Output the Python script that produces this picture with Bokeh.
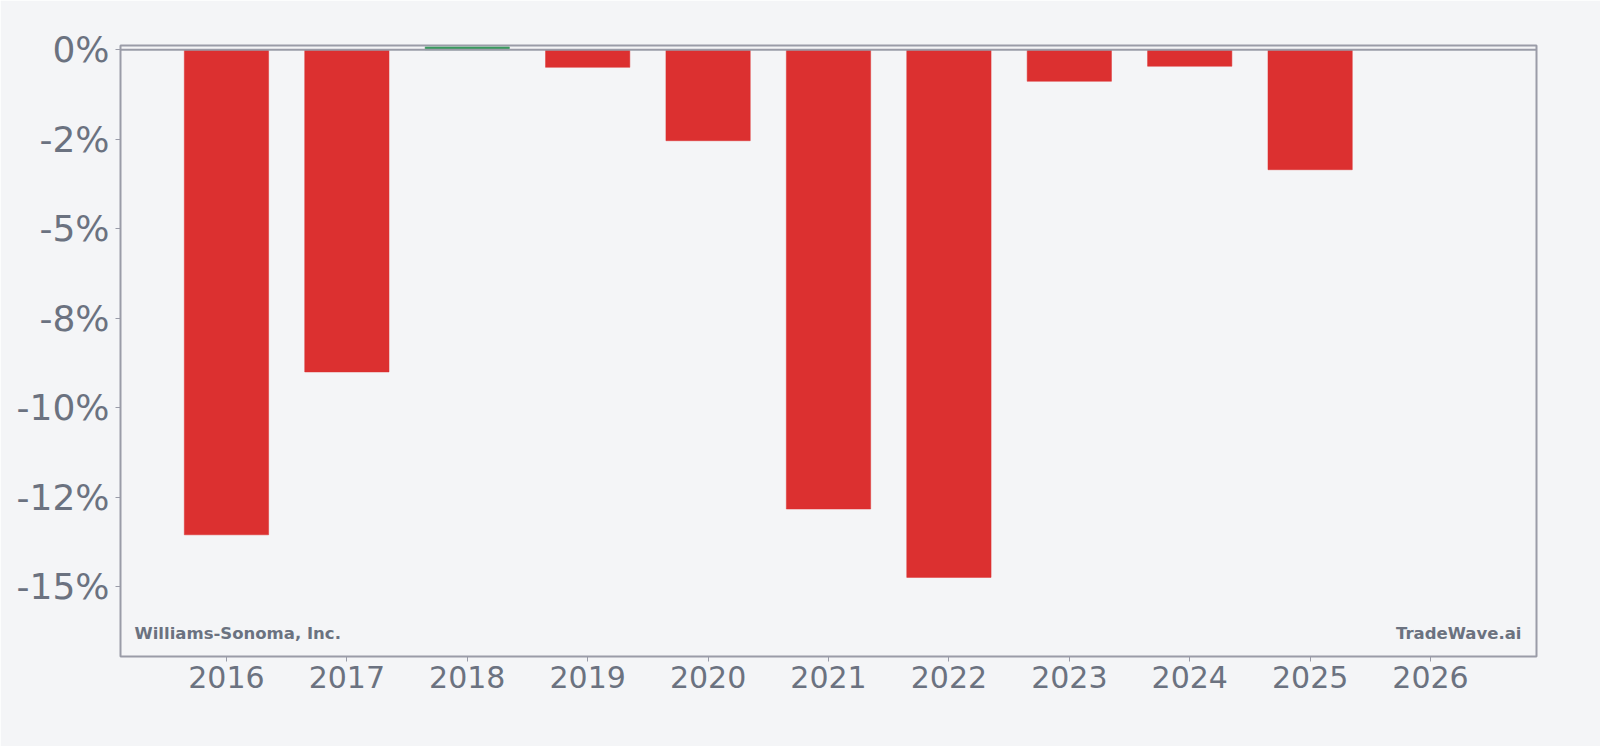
from bokeh.plotting import figure
from bokeh.models import Range1d, FixedTicker, Span, Label, ColumnDataSource
from bokeh.embed import file_html
from bokeh.resources import INLINE

# ---- data ----
years = [2016, 2017, 2018, 2019, 2020, 2021, 2022, 2023, 2024, 2025]
returns_pct = [-13.55, -9.0, 0.08, -0.49, -2.54, -12.83, -14.74, -0.88, -0.46, -3.35]
x_ticks = [2016, 2017, 2018, 2019, 2020, 2021, 2022, 2023, 2024, 2025, 2026]
x_tick_labels = ["2016", "2017", "2018", "2019", "2020", "2021", "2022", "2023", "2024", "2025", "2026"]
y_ticks = [0, -2.5, -5, -7.5, -10, -12.5, -15]
y_tick_labels = ["0%", "-2%", "-5%", "-8%", "-10%", "-12%", "-15%"]
company = "Williams-Sonoma, Inc."
brand = "TradeWave.ai"

BG = "#f4f5f7"
TXT = "#6b7280"
FRAME = "#9a9ca8"
RED = "#dc3030"
GREEN = "#3a9a5f"

colors = [GREEN if v >= 0 else RED for v in returns_pct]
src = ColumnDataSource(dict(x=years, top=returns_pct, color=colors))

x0, x1 = 2015.12, 2026.88
y0, y1 = -16.95, 0.12

p = figure(width=1600, height=746, output_backend="svg", toolbar_location=None,
           x_range=Range1d(x0, x1), y_range=Range1d(y0, y1),
           min_border_left=120, min_border_right=64, min_border_top=45, min_border_bottom=90)
p.background_fill_color = BG
p.border_fill_color = BG
p.outline_line_color = FRAME
p.outline_line_width = 2
p.xgrid.visible = False
p.ygrid.visible = False

p.vbar(x="x", top="top", bottom=0, width=0.7, source=src,
       fill_color="color", line_color="color", line_width=0.5)

p.add_layout(Span(location=0, dimension="width", line_color=FRAME, line_width=2))

for ax in (p.xaxis[0], p.yaxis[0]):
    ax.axis_line_color = None
    ax.major_tick_line_color = FRAME
    ax.major_tick_line_width = 1
    ax.major_tick_out = 5
    ax.major_tick_in = 0
    ax.minor_tick_line_color = None
    ax.major_label_text_color = TXT
    ax.major_label_text_font = "DejaVu Sans"

p.xaxis.ticker = FixedTicker(ticks=x_ticks)
p.xaxis.major_label_overrides = {t: l for t, l in zip(x_ticks, x_tick_labels)}
p.xaxis.major_label_text_font_size = "30px"
p.xaxis.major_label_standoff = 4

p.yaxis.ticker = FixedTicker(ticks=y_ticks)
p.yaxis.major_label_overrides = {t: l for t, l in zip(y_ticks, y_tick_labels)}
p.yaxis.major_label_text_font_size = "36px"
p.yaxis.major_label_standoff = 6

p.add_layout(Label(x=x0, y=y0, x_offset=14, y_offset=23, text=company,
                   text_font="DejaVu Sans", text_font_style="bold", text_font_size="16.5px",
                   text_color=TXT, text_align="left", text_baseline="alphabetic"))
p.add_layout(Label(x=x1, y=y0, x_offset=-15, y_offset=23, text=brand,
                   text_font="DejaVu Sans", text_font_style="bold", text_font_size="16.5px",
                   text_color=TXT, text_align="right", text_baseline="alphabetic"))

open("out.html", "w").write(file_html(p, INLINE))
